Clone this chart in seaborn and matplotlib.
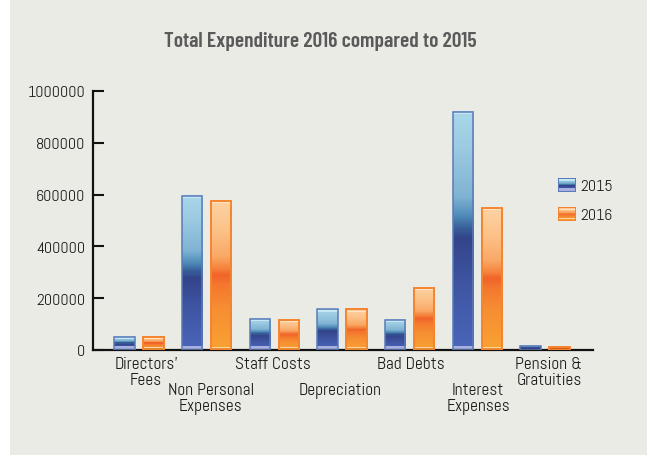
import numpy as np
import pandas as pd
import matplotlib
matplotlib.use("Agg")
import matplotlib.pyplot as plt
import seaborn as sns
from matplotlib import font_manager
from matplotlib.colors import to_rgb, to_hex
from matplotlib.patches import Rectangle, Patch
from matplotlib.ticker import FuncFormatter
from matplotlib.transforms import ScaledTranslation

# ---- data -------------------------------------------------------------
categories = ["Directors' Fees", "Non Personal Expenses", "Staff Costs",
              "Depreciation", "Bad Debts", "Interest Expenses",
              "Pension & Gratuities"]
tick_labels = ["Directors'\nFees", "Non Personal\nExpenses", "Staff Costs",
               "Depreciation", "Bad Debts", "Interest\nExpenses",
               "Pension &\nGratuities"]
years = ["2015", "2016"]
spend_2015 = [52000, 595000, 121000, 158000, 116000, 919000, 17000]
spend_2016 = [52000, 576000, 116000, 158000, 241000, 549000, 13000]
y_ticks = [0, 200000, 400000, 600000, 800000, 1000000]

df = pd.DataFrame({
    "category": categories * 2,
    "year": [years[0]] * len(categories) + [years[1]] * len(categories),
    "value": spend_2015 + spend_2016,
})

# ---- style ------------------------------------------------------------
BG = "#EBEBE6"
MID = {"2015": "#3f55a2", "2016": "#f68e33"}
EDGE = {"2015": "#5a7bb9", "2016": "#f5842f"}
STOPS = {
    "2015": [(0.00, "#a9d7ea"), (0.15, "#9ccbe2"), (0.36, "#80b3d3"),
             (0.44, "#4f8bb8"), (0.49, "#39609a"), (0.53, "#33448a"),
             (0.72, "#3f55a2"), (1.00, "#4a66ba")],
    "2016": [(0.00, "#fdd3a3"), (0.20, "#fcc288"), (0.38, "#f9a865"),
             (0.46, "#f5823c"), (0.50, "#f1642a"), (0.56, "#f4772e"),
             (0.72, "#f68e33"), (1.00, "#f9a232")],
}
TOP_HI = {"2015": "#c6e8f4", "2016": "#fee3c6"}
BOTTOM_HI = {"2015": "#a7b0e0", "2016": "#fcd2a4"}

sns.set_theme(style="white")
installed = {f.name for f in font_manager.fontManager.ttflist}


def pick(cands):
    for c in cands:
        if c in installed:
            return c
    return "DejaVu Sans"


body_font = pick(["Abel", "Liberation Sans Narrow", "Roboto Condensed", "DejaVu Sans"])
title_font = pick(["Barlow Condensed", "Sofia Sans Extra Condensed",
                   "Saira Condensed", "Roboto Condensed", "Abel"])
plt.rcParams["font.family"] = [body_font, "DejaVu Sans"]

W, H = 647, 456
fig = plt.figure(figsize=(W / 100, H / 100), dpi=100, facecolor="white")
fig.patches.append(Rectangle((10 / W, 0), 1 - 10 / W, 1 - 1 / H,
                             transform=fig.transFigure, facecolor=BG,
                             edgecolor="none", zorder=-10))
ax = fig.add_axes([93 / W, 105 / H, 500 / W, 259 / H])
ax.set_facecolor("none")

sns.barplot(data=df, x="category", y="value", hue="year",
            order=categories, hue_order=years,
            palette=[MID[y] for y in years], saturation=1,
            width=0.86, gap=0.3, errorbar=None, legend=False, ax=ax)

ax.set_xlim(-0.68, 6.71)
ax.set_ylim(0, 1000000)
ax.set_xlabel("")
ax.set_ylabel("")
ax.set_yticks(y_ticks)
ax.yaxis.set_major_formatter(FuncFormatter(lambda v, p: f"{int(v)}"))
ax.set_xticks(range(len(categories)))
ax.set_xticklabels(tick_labels)

for s in ("top", "right"):
    ax.spines[s].set_visible(False)
for s in ("left", "bottom"):
    ax.spines[s].set_linewidth(1.6)
    ax.spines[s].set_color("#111111")

ax.tick_params(axis="y", direction="in", length=8, width=1.5, pad=5.5,
               labelsize=11.5, color="#111111", labelcolor="#1e1e1e", left=True)
ax.tick_params(axis="x", length=0, pad=4.5, labelsize=12.5, labelcolor="#1e1e1e")
for i, tk in enumerate(ax.xaxis.get_major_ticks()):
    if i % 2:
        tk.set_pad(4.5 + 18.7)

# small horizontal nudges of the category captions (pixels)
label_shift = [7, 4, -1, -2, 1, 1, 4]
for lab, dx in zip(ax.get_xticklabels(), label_shift):
    lab.set_linespacing(1.02)
    lab.set_transform(lab.get_transform()
                      + ScaledTranslation(dx / 100, 0, fig.dpi_scale_trans))


def gradient_block(year, h, w, with_edge=False):
    """Vertical glossy gradient of h x w pixels for one series."""
    h = max(int(round(h)), 1)
    w = max(int(round(w)), 1)
    pos = [p for p, _ in STOPS[year]]
    cols = np.array([to_rgb(c) for _, c in STOPS[year]])
    t = (np.arange(h) + 0.5) / h
    rows = np.stack([np.interp(t, pos, cols[:, k]) for k in range(3)], axis=1)
    img = np.repeat(rows[:, None, :], w, axis=1)
    if h >= 6:
        if year == "2015":
            img[1:3] = to_rgb(TOP_HI[year])
            img[h - 4:h - 1] = to_rgb(BOTTOM_HI[year])
        else:
            img[2] = to_rgb(TOP_HI[year])
            img[h - 3] = to_rgb(BOTTOM_HI[year])
    if with_edge:
        e = to_rgb(EDGE[year])
        img[0] = e
        img[-1] = e
        img[:, 0] = e
        img[:, -1] = e
    return img


# glossy fills for the bars, clipped to each seaborn bar
mid_hex = {to_hex(MID[y]): y for y in years}
for patch in list(ax.patches):
    year = mid_hex.get(to_hex(patch.get_facecolor()))
    if year is None:
        continue
    x0, y0 = patch.get_x(), patch.get_y()
    bw, bh = patch.get_width(), patch.get_height()
    (px0, py0), (px1, py1) = ax.transData.transform([(x0, y0), (x0 + bw, y0 + bh)])
    img = gradient_block(year, py1 - py0, px1 - px0)
    ax.imshow(img, extent=(x0, x0 + bw, y0, y0 + bh), origin="upper",
              aspect="auto", interpolation="nearest", zorder=2)
    patch.set_facecolor("none")
    patch.set_edgecolor(EDGE[year])
    patch.set_linewidth(1.1 if year == "2015" else 1.4)
    patch.set_zorder(3)

ax.set_xlim(-0.68, 6.71)
ax.set_ylim(0, 1000000)

# legend with glossy swatches
handles = [Patch(facecolor=MID[y], edgecolor=EDGE[y]) for y in years]
leg = ax.legend(handles, years, loc="upper left",
                bbox_to_anchor=(558 / W, 1 - 179 / H),
                bbox_transform=fig.transFigure, frameon=False, fontsize=11.5,
                handlelength=1.15, handleheight=0.95, handletextpad=0.25,
                labelspacing=0.85, borderpad=0, borderaxespad=0)
for txt in leg.get_texts():
    txt.set_color("#1e1e1e")

fig.text(320 / W, 1 - 47 / H, "Total Expenditure 2016 compared to 2015",
         ha="center", va="baseline", fontsize=15.5, fontweight="semibold",
         family=[title_font, "DejaVu Sans"], color="#5a5a5a")

fig.canvas.draw()
for y, hnd in zip(years, leg.legend_handles):
    bb = hnd.get_window_extent()
    img = gradient_block(y, bb.height, bb.width, with_edge=True)
    fig.figimage(img, xo=int(round(bb.x0)), yo=int(round(bb.y0)), zorder=6)
    hnd.set_visible(False)

fig.savefig("out.png", dpi=100, facecolor=fig.get_facecolor())
